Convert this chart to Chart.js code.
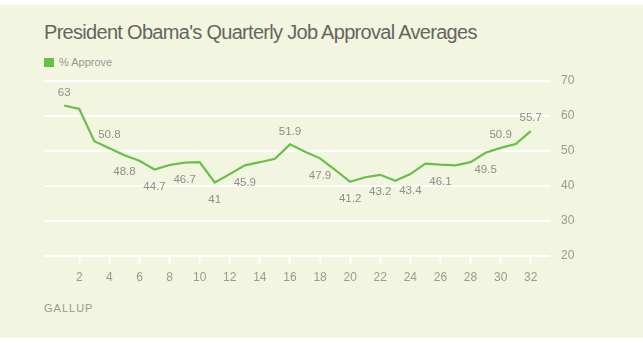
<!DOCTYPE html>
<html>
<head>
<meta charset="utf-8">
<script src="https://cdn.jsdelivr.net/npm/chart.js@4"></script>
<style>
  html, body { margin: 0; padding: 0; background: #fff; }
  body { width: 643px; height: 343px; position: relative; overflow: hidden;
         font-family: "Liberation Sans", Arial, sans-serif; }
  #bg { position: absolute; left: 0; top: 5px; width: 643px; height: 333px; background: #f2f5e0; }
  #title { position: absolute; left: 44px; top: 22px; font-size: 20px; line-height: 20px; color: #66665e;
           white-space: nowrap; letter-spacing: -0.7px; }
  #legend { position: absolute; left: 44px; top: 57px; font-size: 11px; line-height: 11px; color: #9a9a90; }
  #legend span.box { display: inline-block; width: 10px; height: 9px; background: #6abf4b; vertical-align: -1px; margin-right: 5px; }
  #source { position: absolute; left: 44px; top: 303px; font-size: 11px; line-height: 11px; color: #9a9a90; letter-spacing: 1px; }
  #chart { position: absolute; left: 0; top: 0; }
</style>
</head>
<body>
<div id="bg"></div>
<div id="title">President Obama's Quarterly Job Approval Averages</div>
<div id="legend"><span class="box"></span>% Approve</div>
<div id="source">GALLUP</div>
<canvas id="chart" width="643" height="343"></canvas>
<script>
// ---------- DATA ----------
const quarters = [1, 2, 3, 4, 5, 6, 7, 8, 9, 10, 11, 12, 13, 14, 15, 16,
                  17, 18, 19, 20, 21, 22, 23, 24, 25, 26, 27, 28, 29, 30, 31, 32];
const approve = [63, 62, 52.8, 50.8, 48.8, 47.2, 44.7, 46.0, 46.7, 46.8, 41, 43.4, 45.9, 46.8, 47.8, 51.9,
                 49.8, 47.9, 44.6, 41.2, 42.5, 43.2, 41.5, 43.4, 46.4, 46.1, 45.9, 46.8, 49.5, 50.9, 52.0, 55.7];
// which points carry a value label, and which of those sit above the line
const labeledQuarters = [1, 4, 5, 7, 9, 11, 13, 16, 18, 20, 22, 24, 26, 29, 30, 32];
const labelsAbove = [1, 4, 16, 30, 32];
const xTickValues = [2, 4, 6, 8, 10, 12, 14, 16, 18, 20, 22, 24, 26, 28, 30, 32];
const yTickValues = [20, 30, 40, 50, 60, 70];

const FONT = "'Liberation Sans', Arial, sans-serif";
const GREEN = "#6abf4b";
const GREY = "#9a9a90";

// ---------- VALUE LABELS ----------
const valueLabels = {
  id: "valueLabels",
  afterDatasetsDraw(chart) {
    const meta = chart.getDatasetMeta(0);
    const ctx = chart.ctx;
    ctx.save();
    ctx.font = "11.5px " + FONT;
    ctx.fillStyle = "#8f8f86";
    ctx.textAlign = "center";
    ctx.textBaseline = "middle";
    labeledQuarters.forEach((q) => {
      const i = quarters.indexOf(q);
      const pt = meta.data[i];
      const above = labelsAbove.includes(q);
      ctx.fillText(String(approve[i]), pt.x, above ? pt.y - 13 : pt.y + 17);
    });
    ctx.restore();
  }
};

// ---------- CHART ----------
new Chart(document.getElementById("chart"), {
  type: "line",
  data: {
    datasets: [{
      label: "% Approve",
      data: quarters.map((q, i) => ({ x: q, y: approve[i] })),
      borderColor: GREEN,
      borderWidth: 2.2,
      pointRadius: 0,
      tension: 0,
      fill: false
    }]
  },
  options: {
    responsive: false,
    animation: false,
    layout: { padding: { left: 44, top: 81, right: 0, bottom: 0 } },
    plugins: { legend: { display: false }, tooltip: { enabled: false } },
    scales: {
      x: {
        type: "linear",
        min: -0.345,
        max: 33.28,
        afterBuildTicks: (s) => { s.ticks = xTickValues.map((v) => ({ value: v })); },
        afterFit: (s) => { s.height = 87; },
        border: { display: false },
        grid: { drawOnChartArea: false, drawTicks: true, tickLength: 8, tickWidth: 2, color: "#ffffff" },
        ticks: { color: GREY, font: { family: FONT, size: 12 }, padding: 6, maxRotation: 0 }
      },
      y: {
        position: "right",
        min: 20,
        max: 70,
        afterBuildTicks: (s) => { s.ticks = yTickValues.map((v) => ({ value: v })); },
        afterFit: (s) => { s.width = 93; },
        border: { display: false },
        grid: { color: "#ffffff", lineWidth: 2, drawTicks: false },
        ticks: { color: GREY, font: { family: FONT, size: 12 }, padding: 11 }
      }
    }
  },
  plugins: [valueLabels]
});
</script>
</body>
</html>
